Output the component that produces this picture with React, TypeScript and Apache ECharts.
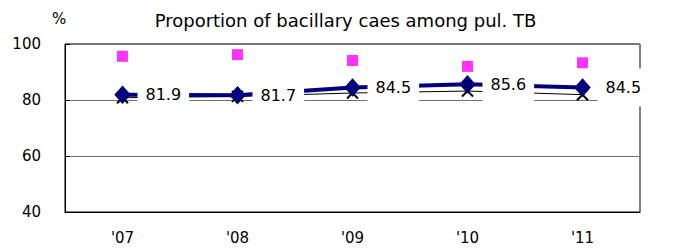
import React, { useEffect, useRef } from "react";
import * as echarts from "echarts";

const categories = ["'07", "'08", "'09", "'10", "'11"];
const navyValues = [81.9, 81.7, 84.5, 85.6, 84.5];
const blackValues = [80.8, 81.3, 82.5, 83.2, 81.9];
const magentaValues = [95.6, 96.2, 94.1, 92.0, 93.3];
const yTicks = [40, 60, 80, 100];
const titleText = "Proportion of bacillary caes among pul. TB";
const unitText = "%";

const FONT = "DejaVu Sans";

export default function App() {
  const ref = useRef<HTMLDivElement>(null);
  useEffect(() => {
    if (!ref.current) return;
    const chart = echarts.init(ref.current, null, { renderer: "svg" });
    chart.setOption({
      animation: false,
      backgroundColor: "#fff",
      title: {
        text: titleText,
        left: "center",
        top: 6,
        textStyle: { fontFamily: FONT, fontSize: 18, fontWeight: "normal", color: "#000" },
      },
      graphic: [
        {
          type: "text",
          left: 52,
          top: 11,
          style: { text: unitText, fontFamily: FONT, fontSize: 15, fill: "#000" },
        },
      ],
      grid: {
        left: 65,
        right: 51,
        top: 44,
        bottom: 37,
        show: true,
        borderColor: "#000",
        borderWidth: 1,
        backgroundColor: "transparent",
      },
      xAxis: {
        type: "category",
        data: categories,
        boundaryGap: true,
        axisLine: { lineStyle: { color: "#000", width: 1 } },
        axisTick: { inside: true, length: 5, lineStyle: { color: "#000" } },
        axisLabel: { fontFamily: FONT, fontSize: 15, color: "#000", margin: 18 },
      },
      yAxis: {
        type: "value",
        min: yTicks[0],
        max: yTicks[yTicks.length - 1],
        interval: 20,
        axisLine: { show: true, lineStyle: { color: "#000", width: 1 } },
        axisTick: { show: true, inside: true, length: 5, lineStyle: { color: "#000" } },
        axisLabel: { fontFamily: FONT, fontSize: 15, color: "#000", margin: 24, padding: [0, 0, 5, 0] },
        splitLine: { show: true, lineStyle: { color: "#707070", width: 1 } },
      },
      series: [
        {
          type: "scatter",
          data: magentaValues,
          symbol: "rect",
          symbolSize: 11,
          itemStyle: { color: "#FF00FF" },
          z: 2,
        },
        {
          type: "line",
          data: navyValues,
          symbol: "diamond",
          symbolSize: [15, 17],
          lineStyle: { color: "#000080", width: 4 },
          itemStyle: { color: "#000080", borderColor: "#000060", borderWidth: 1 },
          label: {
            show: true,
            position: "right",
            distance: 7,
            fontFamily: FONT,
            fontSize: 16,
            color: "#000",
            backgroundColor: "#fff",
            padding: [11, 8],
          },
          z: 3,
        },
        {
          type: "line",
          data: blackValues,
          symbol: "path://M0,0L10,10M0,10L10,0",
          symbolSize: 11,
          lineStyle: { color: "#000", width: 1 },
          itemStyle: { color: "none", borderColor: "#000", borderWidth: 2 },
          z: 2,
        },
      ],
    });
    return () => chart.dispose();
  }, []);
  return (
    <div
      ref={ref}
      style={{ position: "absolute", left: 0, top: 0, width: 691, height: 249 }}
    />
  );
}
